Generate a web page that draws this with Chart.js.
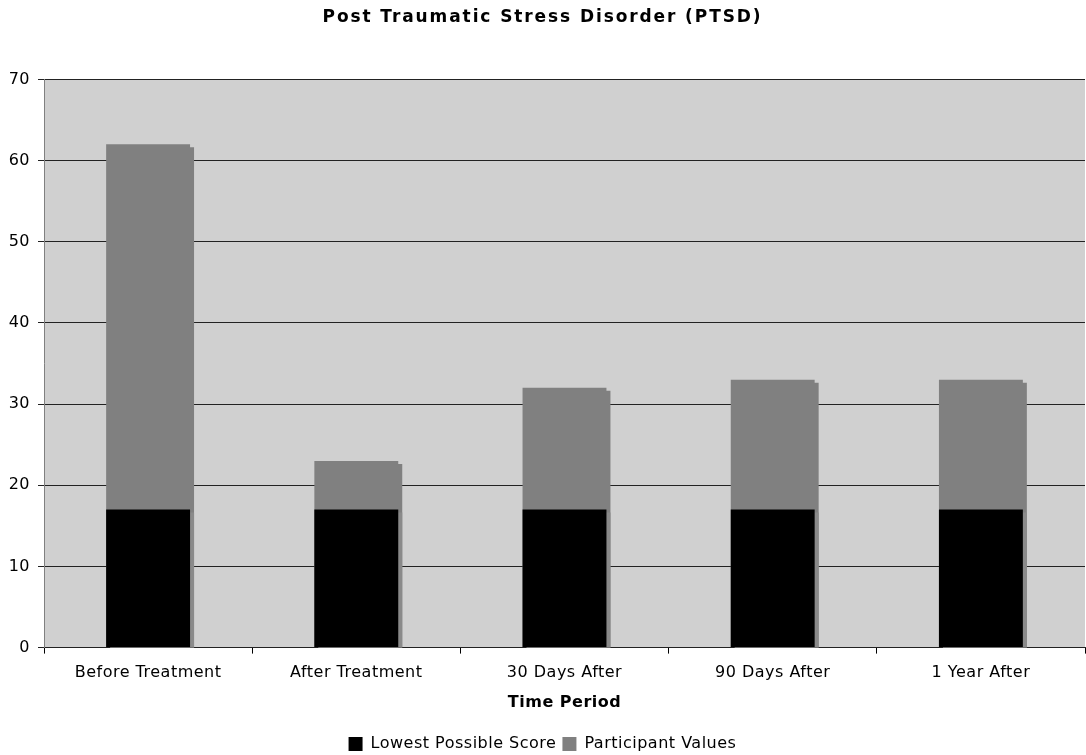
<!DOCTYPE html>
<html>
<head>
<meta charset="utf-8">
<script src="https://cdn.jsdelivr.net/npm/chart.js@4.4.1/dist/chart.umd.min.js"></script>
<style>
  html, body { margin: 0; padding: 0; background: #fff; }
  #wrap { width: 1086px; height: 755px; }
</style>
</head>
<body>
<div id="wrap"><canvas id="ptsdChart"></canvas></div>
<script>
// data
const periods = ['Before Treatment', 'After Treatment', '30 Days After', '90 Days After', '1 Year After'];
const lowestScore = [17, 17, 17, 17, 17];
const participantValues = [62, 23, 32, 33, 33];
const yTicks = [0, 10, 20, 30, 40, 50, 60, 70];

const FONT = 'Verdana, "DejaVu Sans", sans-serif';

// DejaVu is a bit narrower than Verdana, so widen the text a little
const textSpacing = {
  id: 'textSpacing',
  beforeUpdate(chart) { chart.ctx.letterSpacing = '0.5px'; },
  beforeDraw(chart) {
    chart.ctx.letterSpacing = '0.5px';
    const tb = chart.titleBlock;
    if (tb && !tb._spaced) {
      const orig = tb.draw;
      tb.draw = function (...args) {
        const ctx = this.ctx;
        ctx.save();
        ctx.letterSpacing = '1.9px';
        orig.apply(this, args);
        ctx.restore();
      };
      tb._spaced = true;
    }
  }
};

// grey plot area behind the bars
const plotBg = {
  id: 'plotBg',
  beforeDraw(chart) {
    const { ctx, chartArea: a } = chart;
    ctx.save();
    ctx.fillStyle = '#d0d0d0';
    ctx.fillRect(a.left, a.top, a.right - a.left, a.bottom - a.top);
    ctx.restore();
  }
};

// hard drop shadow on the bars (offset, no blur)
const barShadow = {
  id: 'barShadow',
  beforeDatasetDraw(chart, args) {
    const ctx = chart.ctx;
    ctx.save();
    ctx.shadowColor = args.index === 1 ? '#808080' : '#8a8a8a';
    ctx.shadowOffsetX = 4;
    ctx.shadowOffsetY = 3;
    ctx.shadowBlur = 0;
  },
  afterDatasetDraw(chart) {
    chart.ctx.restore();
  }
};

new Chart(document.getElementById('ptsdChart'), {
  type: 'bar',
  data: {
    labels: periods,
    datasets: [
      {
        label: 'Lowest Possible Score',
        data: lowestScore,
        backgroundColor: '#000000',
        borderWidth: 0,
        order: 0
      },
      {
        label: 'Participant Values',
        data: participantValues,
        backgroundColor: '#808080',
        borderWidth: 0,
        order: 1
      }
    ]
  },
  options: {
    responsive: true,
    maintainAspectRatio: false,
    animation: false,
    layout: { padding: { left: 0, right: 1, top: 0, bottom: -7 } },
    datasets: { bar: { categoryPercentage: 1, barPercentage: 0.403 } },
    scales: {
      x: {
        stacked: true,
        grid: {
          offset: true,
          drawOnChartArea: false,
          drawTicks: true,
          tickLength: 6,
          color: '#000'
        },
        border: { color: '#222', width: 1 },
        ticks: { color: '#000', font: { family: FONT, size: 16 }, padding: 10 },
        title: {
          display: true,
          text: 'Time Period',
          color: '#000',
          font: { family: FONT, size: 16, weight: 'bold' },
          padding: { top: 0, bottom: 18 }
        }
      },
      y: {
        stacked: false,
        min: 0,
        max: 70,
        afterBuildTicks(axis) { axis.ticks = yTicks.map(v => ({ value: v })); },
        afterFit(axis) { axis.width = 44; },
        grid: { color: '#222', lineWidth: 1, tickLength: 6 },
        border: { color: '#808080', width: 1 },
        ticks: { color: '#000', font: { family: FONT, size: 16 }, padding: 8 }
      }
    },
    plugins: {
      title: {
        display: true,
        text: 'Post Traumatic Stress Disorder (PTSD)',
        color: '#000',
        font: { family: FONT, size: 17, weight: 'bold' },
        padding: { top: 7, bottom: 52 }
      },
      legend: {
        position: 'bottom',
        labels: {
          color: '#000',
          font: { family: FONT, size: 16 },
          boxWidth: 14,
          boxHeight: 14,
          padding: 6
        },
        onClick: null
      },
      tooltip: { enabled: false }
    }
  },
  plugins: [textSpacing, plotBg, barShadow]
});
</script>
</body>
</html>
